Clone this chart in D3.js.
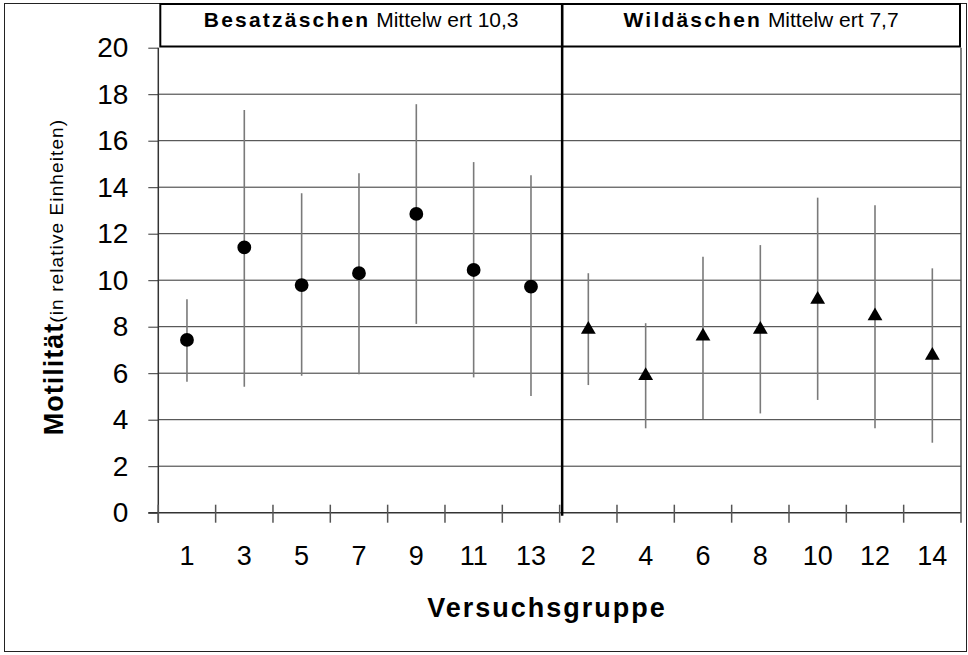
<!DOCTYPE html>
<html>
<head>
<meta charset="utf-8">
<script src="https://cdn.jsdelivr.net/npm/d3@7"></script>
<style>
  body { margin: 0; background: #fff; }
  svg { display: block; font-family: "Liberation Sans", Arial, sans-serif; }
</style>
</head>
<body>
<div id="chart"></div>
<script>
// Versuchsgruppen, in order of the x axis
var groups = ['1', '3', '5', '7', '9', '11', '13', '2', '4', '6', '8', '10', '12', '14'];
// mean motility and error bar ends
var means = [7.43, 11.41, 9.79, 10.30, 12.85, 10.44, 9.72, 7.88, 5.89, 7.59, 7.88, 9.17, 8.46, 6.76];
var upper = [9.18, 17.32, 13.74, 14.60, 17.57, 15.08, 14.51, 10.30, 8.15, 11.01, 11.51, 13.55, 13.22, 10.51];
var lower = [5.63, 5.42, 5.89, 5.95, 8.12, 5.82, 5.02, 5.49, 3.63, 4.03, 4.27, 4.85, 3.63, 3.01];
// panel headers
var panelNames = ['Besatzäschen', 'Wildäschen'];
var panelMeans = ['Mittelw ert 10,3', 'Mittelw ert 7,7'];
var panelGroups = [['1', '3', '5', '7', '9', '11', '13'], ['2', '4', '6', '8', '10', '12', '14']];
var yTicks = [0, 2, 4, 6, 8, 10, 12, 14, 16, 18, 20];

(function() {
    var width = 968, height = 655;
    var pLeft = 158.3, pRight = 961, pTop = 47.7, pBottom = 512.7;

    var svg = d3.select('#chart').append('svg')
        .attr('width', width)
        .attr('height', height);

    var x = d3.scaleBand().domain(groups).range([pLeft, pRight]).padding(0);
    var y = d3.scaleLinear().domain([0, 20]).range([pBottom, pTop]);
    var divX = x(panelGroups[1][0]) + 2.5;

    // Outer frame.
    svg.append('rect')
        .attr('x', 4.5).attr('y', 3.5)
        .attr('width', 962).attr('height', 648)
        .attr('fill', 'none').attr('stroke', '#222').attr('stroke-width', 1);

    // Gridlines.
    svg.append('g').selectAll('line')
        .data(yTicks.filter(function(d) { return d > 0 && d < 20; }))
        .enter().append('line')
        .attr('x1', pLeft).attr('x2', pRight)
        .attr('y1', function(d) { return y(d); })
        .attr('y2', function(d) { return y(d); })
        .attr('stroke', '#333').attr('stroke-width', 1);

    // Y axis.
    var yAxis = svg.append('g')
        .attr('transform', 'translate(' + pLeft + ',0)')
        .call(d3.axisLeft(y).tickValues(yTicks).tickSize(10).tickPadding(20).tickFormat(d3.format('d')));
    yAxis.select('.domain').remove();
    yAxis.selectAll('.tick line').attr('stroke', '#333');
    yAxis.selectAll('.tick text')
        .attr('font-size', 28).attr('fill', '#000')
        .attr('font-family', '"Liberation Sans", Arial, sans-serif');
    svg.append('line')
        .attr('x1', pLeft).attr('x2', pLeft)
        .attr('y1', pTop).attr('y2', pBottom + 10)
        .attr('stroke', '#333').attr('stroke-width', 1.5);

    // X axis labels.
    var xAxis = svg.append('g')
        .attr('transform', 'translate(0,' + pBottom + ')')
        .call(d3.axisBottom(x).tickSize(0).tickPadding(33));
    xAxis.select('.domain').remove();
    xAxis.selectAll('.tick text')
        .attr('font-size', 27).attr('fill', '#000')
        .attr('font-family', '"Liberation Sans", Arial, sans-serif');

    // X axis line and ticks between the groups.
    svg.append('line')
        .attr('x1', pLeft - 10).attr('x2', pRight)
        .attr('y1', pBottom).attr('y2', pBottom)
        .attr('stroke', '#333').attr('stroke-width', 1.5);
    svg.append('g').selectAll('line')
        .data(groups.concat(['end']))
        .enter().append('line')
        .attr('x1', function(d) { return d === 'end' ? pRight : x(d); })
        .attr('x2', function(d) { return d === 'end' ? pRight : x(d); })
        .attr('y1', function(d) { return d === 'end' ? pTop : pBottom - 8; })
        .attr('y2', pBottom + 10)
        .attr('stroke', '#555').attr('stroke-width', 1.5);

    // Panel headers and divider.
    panelGroups.forEach(function(pg, i) {
        var x0 = i === 0 ? pLeft + 2 : divX;
        var x1 = i === 0 ? divX : pRight - 1;
        svg.append('rect')
            .attr('x', x0).attr('y', 4)
            .attr('width', x1 - x0).attr('height', 42.5)
            .attr('fill', '#fff').attr('stroke', '#000').attr('stroke-width', 2);
        var t = svg.append('text')
            .attr('x', (x0 + x1) / 2).attr('y', 27)
            .attr('text-anchor', 'middle')
            .attr('font-size', 21);
        t.append('tspan').attr('font-weight', 'bold').attr('letter-spacing', 2.2).text(panelNames[i]);
        t.append('tspan').text(' ' + panelMeans[i]);
    });
    svg.append('line')
        .attr('x1', divX).attr('x2', divX)
        .attr('y1', 3).attr('y2', pBottom + 3)
        .attr('stroke', '#000').attr('stroke-width', 2.5);

    // Error bars.
    var cx = function(i) { return x(groups[i]) + x.bandwidth() / 2; };
    svg.append('g').selectAll('line')
        .data(means)
        .enter().append('line')
        .attr('x1', function(d, i) { return cx(i); })
        .attr('x2', function(d, i) { return cx(i); })
        .attr('y1', function(d, i) { return y(upper[i]); })
        .attr('y2', function(d, i) { return y(lower[i]); })
        .attr('stroke', '#7a7a7a').attr('stroke-width', 1.6);

    // Markers.
    var circleSym = d3.symbol().type(d3.symbolCircle).size(150);
    var triSym = d3.symbol().type(d3.symbolTriangle).size(95);
    svg.append('g').selectAll('path')
        .data(means)
        .enter().append('path')
        .attr('d', function(d, i) { return panelGroups[0].indexOf(groups[i]) >= 0 ? circleSym() : triSym(); })
        .attr('transform', function(d, i) { return 'translate(' + cx(i) + ',' + y(d) + ')'; })
        .attr('fill', '#000');

    // Axis titles.
    svg.append('text')
        .attr('x', 547).attr('y', 617)
        .attr('text-anchor', 'middle')
        .attr('font-size', 27).attr('font-weight', 'bold')
        .attr('letter-spacing', 2)
        .text('Versuchsgruppe');

    var yt = svg.append('text')
        .attr('transform', 'translate(63,277) rotate(-90)')
        .attr('text-anchor', 'middle');
    yt.append('tspan').attr('font-size', 27).attr('font-weight', 'bold').attr('letter-spacing', 1).text('Motilität');
    yt.append('tspan').attr('font-size', 19).attr('letter-spacing', 1.1).text('(in relative Einheiten)');
})();
</script>
</body>
</html>
